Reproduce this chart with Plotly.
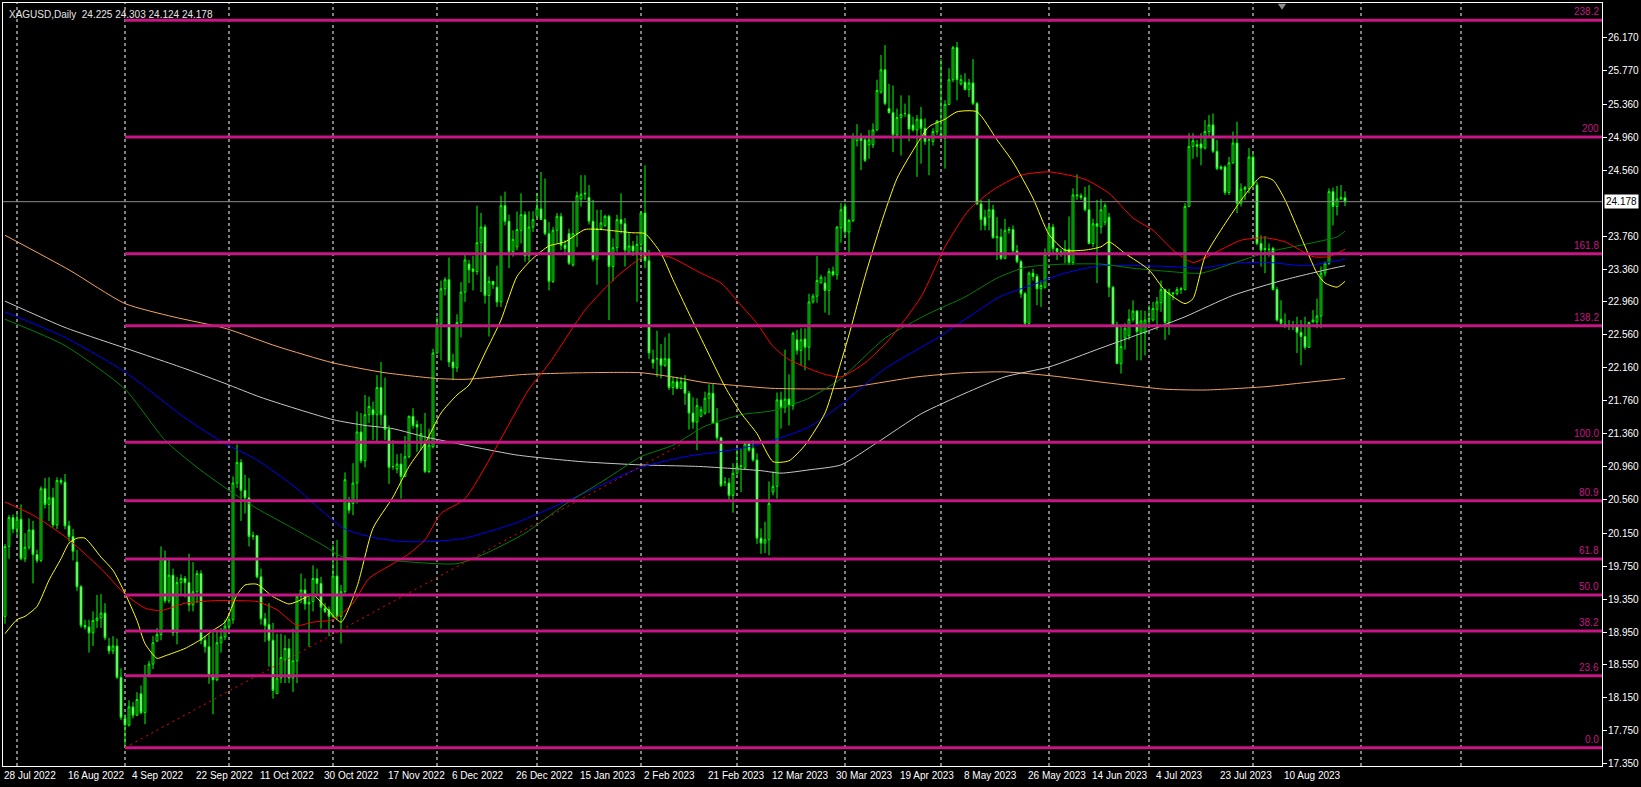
import pandas as pd
import plotly.graph_objects as go

# ---- daily bars (XAGUSD, 28 Jul 2022 - 28 Aug 2023) ----
opens = [
    19.14, 19.99, 20.34, 20.20, 20.32, 19.84, 19.98, 20.19, 19.89, 19.82,
    20.69, 20.50, 20.58, 20.25, 20.79, 20.77, 20.24, 20.11, 19.80, 19.50,
    19.03, 19.01, 18.94, 19.09, 19.12, 19.18, 18.78, 18.72, 18.78, 18.40,
    17.90, 17.82, 18.04, 17.94, 18.20, 17.97, 18.43, 18.56, 18.84, 18.92,
    19.84, 19.33, 19.64, 18.94, 19.55, 19.60, 19.55, 19.28, 19.44, 19.66,
    18.85, 18.77, 18.43, 18.37, 18.82, 18.89, 19.02, 19.10, 20.76, 21.01,
    20.67, 20.58, 20.11, 20.12, 19.62, 19.11, 19.04, 18.85, 18.20, 18.39,
    18.61, 18.75, 18.39, 18.60, 19.38, 19.46, 19.29, 19.32, 19.60, 19.54,
    19.24, 19.22, 19.14, 19.63, 19.14, 19.44, 20.52, 20.51, 20.76, 21.38,
    21.03, 21.59, 21.65, 21.59, 21.92, 21.58, 21.41, 20.96, 20.93, 20.99,
    20.84, 21.08, 21.57, 21.47, 21.24, 21.24, 20.90, 21.20, 22.34, 22.69,
    23.12, 23.23, 22.23, 22.16, 22.71, 23.08, 23.42, 23.36, 23.33, 23.68,
    23.87, 23.04, 23.21, 23.14, 22.96, 24.13, 23.94, 23.57, 23.63, 23.83,
    24.02, 23.52, 23.87, 24.00, 24.09, 23.96, 23.79, 23.21, 23.83, 24.00,
    23.65, 23.79, 23.41, 23.79, 24.21, 24.27, 24.23, 23.94, 23.48, 23.85,
    23.89, 24.00, 23.39, 23.62, 23.96, 23.91, 23.56, 23.64, 23.56, 23.66,
    24.04, 23.46, 22.26, 22.27, 22.27, 22.19, 22.27, 21.92, 21.99, 21.91,
    21.99, 21.85, 21.61, 21.50, 21.57, 21.61, 21.79, 21.85, 21.49, 21.31,
    20.77, 20.76, 20.61, 20.88, 20.96, 20.94, 21.24, 21.18, 21.04, 20.09,
    20.03, 20.07, 20.65, 20.72, 21.77, 21.68, 21.78, 21.70, 22.50, 22.37,
    22.51, 22.41, 22.96, 23.03, 23.19, 23.19, 23.10, 23.33, 23.29, 23.86,
    24.12, 23.81, 23.95, 24.92, 24.97, 24.93, 24.87, 24.87, 25.05, 25.51,
    25.78, 25.31, 25.26, 24.99, 25.20, 25.25, 25.24, 25.11, 25.05, 25.18,
    25.07, 24.93, 24.91, 25.03, 25.00, 24.95, 25.36, 25.66, 26.05, 25.61,
    25.63, 25.54, 25.62, 25.37, 24.15, 23.99, 23.99, 24.08, 23.74, 23.75,
    23.49, 23.83, 23.84, 23.58, 23.45, 23.06, 22.70, 23.31, 23.27, 23.12,
    23.14, 23.54, 23.87, 23.61, 23.57, 23.55, 23.60, 23.44, 24.26, 24.25,
    24.23, 24.08, 23.67, 23.91, 23.87, 23.93, 23.99, 23.14, 22.68, 22.21,
    22.52, 22.55, 22.75, 22.85, 22.58, 22.58, 22.75, 22.74, 22.87, 22.95,
    23.11, 22.71, 23.07, 23.06, 23.11, 23.11, 24.12, 24.85, 24.87, 24.88,
    24.83, 25.03, 25.11, 24.79, 24.60, 24.60, 24.29, 24.65, 24.89, 24.16,
    24.35, 24.34, 24.72, 24.38, 23.67, 23.61, 23.60, 23.61, 23.11, 22.75,
    22.69, 22.68, 22.67, 22.67, 22.59, 22.54, 22.41, 22.72, 22.72, 22.79,
    23.31, 23.43, 24.30, 24.12, 24.21, 24.225,
]
highs = [
    20.02, 20.37, 20.38, 20.40, 20.50, 20.15, 20.33, 20.30, 19.95, 20.72,
    20.82, 20.83, 20.70, 20.83, 20.82, 20.87, 20.30, 20.20, 19.95, 19.52,
    19.10, 19.10, 19.20, 19.40, 19.41, 19.30, 18.88, 18.90, 18.87, 18.51,
    17.95, 18.12, 18.10, 18.22, 18.30, 18.55, 18.60, 18.90, 19.00, 19.99,
    19.94, 19.85, 19.72, 19.62, 19.65, 19.63, 19.90, 19.80, 19.70, 19.70,
    18.90, 18.92, 18.98, 18.95, 19.00, 19.10, 19.14, 20.84, 21.23, 21.05,
    20.86, 20.82, 20.17, 20.12, 19.72, 19.18, 19.30, 19.06, 18.93, 18.93,
    18.91, 18.87, 18.99, 19.40, 19.66, 19.60, 19.39, 19.76, 19.72, 19.62,
    19.30, 19.26, 20.01, 20.07, 19.52, 20.89, 20.59, 21.00, 21.63, 21.61,
    21.83, 21.81, 21.75, 22.07, 22.23, 22.04, 21.46, 21.28, 21.11, 21.12,
    21.33, 21.58, 21.67, 21.52, 21.48, 21.61, 21.42, 22.39, 22.78, 23.22,
    23.26, 23.50, 22.33, 22.81, 23.20, 23.53, 23.47, 23.52, 24.13, 24.04,
    23.90, 23.27, 23.21, 23.40, 24.25, 24.30, 24.02, 23.83, 24.06, 24.28,
    24.06, 24.06, 24.06, 24.28, 24.54, 24.46, 23.93, 23.87, 24.04, 24.04,
    23.71, 23.85, 24.18, 24.30, 24.50, 24.50, 24.38, 24.20, 24.08, 24.08,
    24.02, 24.02, 23.73, 24.02, 24.28, 23.98, 23.81, 23.70, 23.77, 24.06,
    24.62, 23.59, 22.38, 22.61, 22.45, 22.53, 22.58, 22.05, 22.05, 22.05,
    22.07, 21.88, 21.80, 21.79, 21.69, 21.87, 21.96, 21.97, 21.67, 21.32,
    20.83, 20.82, 21.00, 21.18, 21.18, 21.26, 21.26, 21.28, 21.12, 20.21,
    20.29, 20.78, 20.90, 21.86, 21.87, 22.38, 22.08, 22.60, 22.62, 22.64,
    22.64, 23.06, 23.06, 23.52, 23.29, 23.27, 23.37, 23.39, 23.88, 24.16,
    24.16, 23.97, 25.01, 25.12, 25.01, 24.95, 25.05, 25.13, 25.66, 25.96,
    26.08, 25.61, 25.59, 25.31, 25.47, 25.37, 25.47, 25.21, 25.23, 25.33,
    25.19, 24.97, 25.07, 25.17, 25.91, 25.41, 25.80, 26.07, 26.12, 25.72,
    25.74, 25.67, 25.91, 25.39, 24.20, 24.08, 24.21, 24.14, 23.99, 23.85,
    23.97, 23.87, 23.89, 23.65, 23.47, 23.08, 23.33, 23.36, 23.30, 23.22,
    23.61, 23.89, 23.91, 23.61, 23.60, 23.71, 24.00, 24.34, 24.51, 24.28,
    24.36, 24.38, 23.97, 24.20, 24.21, 24.16, 24.04, 23.15, 22.72, 22.66,
    22.70, 22.87, 22.98, 22.86, 22.86, 22.85, 22.92, 22.96, 23.02, 23.22,
    23.12, 23.12, 23.08, 23.14, 23.14, 24.16, 25.01, 25.01, 24.93, 25.01,
    25.17, 25.23, 25.25, 24.93, 24.62, 24.62, 24.72, 25.03, 25.15, 24.40,
    24.37, 24.83, 24.77, 24.42, 23.77, 23.76, 23.67, 23.63, 23.14, 22.98,
    22.82, 22.74, 22.73, 22.78, 22.74, 22.78, 22.72, 22.86, 23.00, 23.39,
    23.45, 24.34, 24.35, 24.37, 24.38, 24.303,
]
lows = [
    19.05, 19.84, 20.15, 20.12, 19.82, 19.80, 19.95, 19.54, 19.79, 19.80,
    20.45, 20.30, 20.22, 20.20, 20.74, 20.20, 20.05, 19.82, 19.45, 19.00,
    18.98, 18.70, 18.78, 19.00, 19.00, 18.85, 18.68, 18.68, 18.38, 17.88,
    17.56, 17.80, 17.90, 17.93, 17.95, 17.83, 18.40, 18.50, 18.83, 18.85,
    19.30, 19.30, 18.90, 18.80, 19.40, 19.37, 19.20, 19.20, 19.30, 18.80,
    18.70, 18.32, 17.95, 18.35, 18.70, 18.85, 18.94, 19.05, 20.70, 20.30,
    20.39, 19.99, 20.07, 19.60, 19.04, 18.83, 18.53, 18.14, 18.20, 18.33,
    18.33, 18.33, 18.22, 18.33, 19.30, 19.22, 18.77, 19.20, 19.40, 18.99,
    19.18, 18.90, 19.12, 19.10, 18.81, 19.42, 20.39, 20.37, 20.51, 21.00,
    20.95, 21.49, 21.28, 21.26, 21.46, 21.28, 20.75, 20.92, 20.88, 20.57,
    20.84, 21.06, 21.42, 21.14, 21.16, 20.88, 20.88, 21.18, 22.33, 22.25,
    23.04, 22.17, 22.01, 22.11, 22.53, 22.96, 23.19, 23.10, 23.29, 23.08,
    22.94, 22.54, 23.12, 22.90, 22.90, 23.89, 23.37, 23.51, 23.59, 23.67,
    23.45, 23.45, 23.81, 23.98, 23.96, 23.77, 23.10, 23.19, 23.67, 23.59,
    23.55, 23.41, 23.39, 23.63, 24.12, 24.20, 23.90, 23.45, 23.17, 23.83,
    23.87, 22.74, 23.21, 23.57, 23.79, 23.39, 23.55, 23.52, 22.96, 23.47,
    23.37, 22.27, 22.15, 22.05, 22.03, 22.17, 21.89, 21.83, 21.90, 21.90,
    21.71, 21.41, 21.42, 21.16, 21.56, 21.59, 21.61, 21.48, 21.25, 20.71,
    20.72, 20.55, 20.40, 20.86, 20.65, 20.92, 21.14, 21.02, 20.02, 19.90,
    19.91, 19.88, 20.61, 20.57, 21.42, 21.61, 21.46, 21.65, 22.32, 22.19,
    22.13, 22.25, 22.94, 22.95, 23.19, 22.83, 22.80, 23.27, 23.23, 23.68,
    23.75, 23.56, 23.93, 24.85, 24.56, 24.66, 24.70, 24.83, 25.04, 25.49,
    25.35, 25.25, 24.78, 24.95, 24.74, 25.21, 24.91, 25.03, 24.48, 24.64,
    24.87, 24.50, 24.86, 24.99, 24.93, 24.58, 25.35, 25.63, 25.41, 25.59,
    25.53, 25.45, 25.35, 24.14, 23.83, 23.83, 23.83, 23.73, 23.47, 23.47,
    23.48, 23.79, 23.55, 23.43, 23.01, 22.68, 22.66, 23.22, 22.92, 22.90,
    23.12, 23.51, 23.55, 23.47, 23.51, 23.43, 23.41, 23.41, 24.20, 24.20,
    24.06, 23.66, 23.63, 23.19, 23.79, 23.89, 23.02, 22.66, 22.21, 22.09,
    22.38, 22.50, 22.72, 22.25, 22.25, 22.31, 22.66, 22.72, 22.62, 22.84,
    22.50, 22.56, 22.98, 23.04, 23.06, 23.10, 24.12, 24.70, 24.72, 24.62,
    24.81, 24.97, 24.77, 24.56, 24.56, 24.26, 24.26, 24.64, 24.04, 24.12,
    24.20, 24.28, 24.36, 23.65, 23.39, 23.31, 23.51, 23.10, 22.72, 22.66,
    22.64, 22.62, 22.62, 22.34, 22.19, 22.38, 22.40, 22.70, 22.64, 22.64,
    23.27, 23.41, 23.89, 24.01, 24.20, 24.124,
]
closes = [
    19.99, 20.34, 20.20, 20.32, 19.84, 19.98, 20.19, 19.89, 19.82, 20.69,
    20.50, 20.58, 20.25, 20.79, 20.77, 20.24, 20.11, 19.93, 19.50, 19.03,
    19.01, 18.94, 19.09, 19.12, 19.18, 18.88, 18.72, 18.78, 18.40, 17.91,
    17.82, 18.04, 17.94, 18.13, 17.97, 18.43, 18.56, 18.82, 18.92, 19.84,
    19.33, 19.64, 18.94, 19.55, 19.60, 19.55, 19.28, 19.44, 19.66, 18.85,
    18.77, 18.43, 18.37, 18.82, 18.89, 19.02, 19.10, 20.76, 21.01, 20.67,
    20.58, 20.11, 20.12, 19.62, 19.11, 19.03, 18.85, 18.24, 18.39, 18.64,
    18.75, 18.39, 18.60, 19.38, 19.46, 19.29, 19.31, 19.60, 19.54, 19.25,
    19.20, 19.14, 19.63, 19.14, 19.44, 20.80, 20.43, 20.76, 21.38, 21.03,
    21.59, 21.69, 21.59, 21.92, 21.59, 21.41, 20.95, 20.96, 20.99, 20.84,
    21.08, 21.57, 21.46, 21.44, 21.36, 20.90, 21.22, 22.34, 22.69, 23.12,
    23.23, 22.23, 22.16, 22.71, 23.08, 23.47, 23.35, 23.33, 23.68, 23.87,
    23.04, 23.21, 23.17, 22.96, 24.13, 23.94, 23.57, 23.72, 23.84, 24.02,
    23.52, 23.87, 23.96, 24.10, 23.96, 23.79, 23.21, 23.83, 24.00, 23.65,
    23.61, 23.43, 23.79, 24.25, 24.27, 24.28, 23.94, 23.48, 23.85, 23.92,
    24.00, 23.39, 23.62, 23.96, 23.91, 23.59, 23.64, 23.58, 23.66, 24.04,
    23.46, 22.34, 22.22, 22.27, 22.19, 22.27, 21.92, 21.99, 21.91, 21.99,
    21.85, 21.61, 21.50, 21.70, 21.65, 21.79, 21.85, 21.49, 21.31, 20.73,
    20.77, 20.61, 20.88, 20.96, 20.97, 21.24, 21.16, 21.04, 20.09, 20.03,
    20.07, 20.51, 20.72, 21.77, 21.68, 21.78, 21.70, 22.58, 22.37, 22.50,
    22.41, 22.96, 23.03, 23.22, 23.26, 23.10, 23.33, 23.29, 23.87, 24.08,
    23.81, 23.95, 24.97, 24.97, 24.92, 24.68, 24.93, 25.05, 25.53, 25.78,
    25.37, 25.26, 24.99, 25.20, 25.24, 25.25, 25.06, 25.05, 25.18, 25.07,
    24.91, 24.93, 25.03, 25.16, 24.97, 25.36, 25.66, 26.05, 25.66, 25.66,
    25.54, 25.62, 25.37, 24.15, 23.96, 23.89, 24.08, 23.74, 23.75, 23.49,
    23.83, 23.84, 23.58, 23.45, 23.06, 22.70, 23.31, 23.27, 23.12, 23.16,
    23.54, 23.87, 23.61, 23.57, 23.55, 23.60, 23.44, 24.26, 24.25, 24.23,
    24.08, 23.67, 23.91, 23.88, 24.08, 24.13, 23.14, 22.68, 22.21, 22.42,
    22.64, 22.75, 22.85, 22.60, 22.73, 22.74, 22.76, 22.88, 22.96, 23.11,
    22.71, 23.07, 23.06, 23.11, 23.12, 24.12, 24.85, 24.92, 24.85, 24.83,
    25.03, 25.11, 24.79, 24.58, 24.58, 24.29, 24.65, 24.89, 24.16, 24.33,
    24.33, 24.72, 24.38, 23.67, 23.59, 23.60, 23.60, 23.11, 22.74, 22.70,
    22.68, 22.67, 22.66, 22.59, 22.54, 22.41, 22.71, 22.74, 22.79, 23.31,
    23.43, 24.30, 24.12, 24.21, 24.23, 24.178,
]

# ---- moving averages, sampled at bar positions ----
yellow_x = [0, 3, 5, 8, 11, 14, 16, 18, 20, 24, 27, 30, 33, 35, 38, 40, 45, 49, 52, 55,
            58, 60, 63, 67, 71, 73, 77, 80, 84, 88, 92, 97, 101, 105, 109, 113, 116, 120,
            124, 128, 132, 136, 140, 145, 149, 153, 157, 160, 164, 167, 171, 175, 180, 184,
            188, 192, 196, 200, 205, 209, 211, 215, 219, 223, 227, 231, 235, 238, 243, 248,
            252, 257, 261, 265, 270, 274, 276, 280, 286, 290, 295, 297, 300, 305, 310, 314,
            317, 320, 324, 328, 330, 333, 335]
yellow_y = [18.93, 19.10, 19.14, 19.26, 19.58, 19.84, 20.03, 20.09, 20.09, 19.86, 19.70, 19.42,
            19.09, 18.81, 18.63, 18.66, 18.75, 18.86, 18.97, 19.07, 19.40, 19.52, 19.53, 19.38,
            19.29, 19.32, 19.40, 19.26, 19.07, 19.50, 20.21, 20.59, 20.96, 21.24, 21.61, 21.83,
            21.95, 22.34, 22.74, 23.27, 23.49, 23.64, 23.69, 23.84, 23.84, 23.82, 23.80, 23.79,
            23.55, 23.23, 22.82, 22.42, 21.93, 21.61, 21.36, 21.02, 21.03, 21.22, 21.61, 22.23,
            22.56, 23.27, 23.91, 24.46, 24.80, 25.09, 25.18, 25.27, 25.27, 24.93, 24.66, 24.22,
            23.78, 23.59, 23.59, 23.63, 23.69, 23.55, 23.35, 23.10, 22.94, 23.00, 23.51, 23.91,
            24.26, 24.48, 24.44, 24.20, 23.75, 23.31, 23.19, 23.14, 23.21]

red_x = [0, 7, 15, 24, 30, 35, 39, 45, 52, 59, 63, 68, 73, 77, 82, 87, 91, 97, 101, 105,
         109, 115, 131, 136, 145, 153, 160, 164, 167, 174, 179, 184, 188, 192, 196, 201, 205,
         209, 215, 221, 229, 235, 241, 247, 254, 261, 270, 276, 282, 287, 292, 297, 303, 309,
         315, 320, 327, 331, 335]
red_y = [20.53, 20.37, 20.11, 19.72, 19.41, 19.24, 19.21, 19.30, 19.33, 19.33, 19.32, 19.22,
         19.03, 19.07, 19.10, 19.30, 19.60, 19.78, 19.90, 20.07, 20.39, 20.57, 21.90, 22.21,
         22.86, 23.27, 23.52, 23.53, 23.49, 23.31, 23.19, 22.92, 22.70, 22.42, 22.26, 22.15,
         22.08, 22.05, 22.22, 22.50, 23.02, 23.63, 24.08, 24.32, 24.50, 24.54, 24.45, 24.28,
         23.98, 23.83, 23.59, 23.44, 23.57, 23.71, 23.74, 23.69, 23.51, 23.51, 23.60]

green_x = [0, 15, 30, 40, 48, 56, 63, 72, 80, 84, 96, 113, 120, 130, 140, 150, 159, 167, 175,
           184, 192, 201, 209, 220, 231, 240, 248, 255, 261, 265, 274, 282, 291, 299, 307, 316,
           325, 333, 335]
green_y = [22.75, 22.43, 21.90, 21.28, 20.95, 20.67, 20.45, 20.21, 19.99, 19.87, 19.82, 19.78,
           19.90, 20.15, 20.50, 20.80, 21.08, 21.22, 21.45, 21.59, 21.64, 21.79, 22.03, 22.52,
           22.82, 23.02, 23.25, 23.38, 23.41, 23.42, 23.42, 23.37, 23.33, 23.31, 23.43, 23.57,
           23.66, 23.75, 23.82]

blue_x = [0, 15, 30, 45, 55, 63, 72, 80, 85, 92, 99, 107, 115, 128, 144, 159, 170, 184, 192,
          201, 209, 220, 233, 241, 249, 257, 265, 274, 291, 299, 307, 316, 325, 333, 335]
blue_y = [22.84, 22.53, 22.11, 21.55, 21.24, 21.04, 20.73, 20.39, 20.20, 20.10, 20.05, 20.05,
          20.09, 20.28, 20.62, 20.95, 21.08, 21.18, 21.28, 21.44, 21.71, 22.15, 22.52, 22.78,
          23.03, 23.17, 23.31, 23.40, 23.39, 23.37, 23.43, 23.44, 23.40, 23.46, 23.48]

silver_x = [0, 15, 30, 45, 55, 64, 82, 90, 97, 105, 109, 115, 128, 144, 159, 174, 189, 194,
            201, 209, 218, 229, 240, 250, 261, 274, 287, 295, 307, 320, 332, 335]
silver_y = [22.97, 22.65, 22.40, 22.15, 21.97, 21.80, 21.53, 21.46, 21.42, 21.32, 21.28, 21.22,
            21.10, 21.02, 20.98, 20.96, 20.91, 20.88, 20.92, 20.98, 21.25, 21.60, 21.85, 22.05,
            22.17, 22.40, 22.63, 22.78, 23.04, 23.23, 23.37, 23.40]

orange_x = [0, 16, 30, 42, 55, 68, 82, 95, 108, 115, 130, 145, 159, 168, 175, 184, 192, 209,
            228, 240, 250, 262, 275, 290, 300, 315, 325, 335]
orange_y = [23.77, 23.35, 22.94, 22.78, 22.64, 22.42, 22.22, 22.10, 22.03, 22.02, 22.08, 22.10,
            22.10, 22.04, 21.98, 21.94, 21.91, 21.91, 22.05, 22.10, 22.11, 22.06, 21.98, 21.90,
            21.89, 21.93, 21.98, 22.03]

# ---- fibo expansion (anchored on the 1 Sep 2022 low) ----
fib_low, fib_high = 17.544, 21.254
fib_start, fib_end = 30, 170
fib_ratios = [0.0, 23.6, 38.2, 50.0, 61.8, 80.9, 100.0, 138.2, 161.8, 200.0, 238.2]
fib_labels = ["0.0", "23.6", "38.2", "50.0", "61.8", "80.9", "100.0", "138.2", "161.8", "200", "238.2"]

date_labels = ["28 Jul 2022", "16 Aug 2022", "4 Sep 2022", "22 Sep 2022", "11 Oct 2022",
               "30 Oct 2022", "17 Nov 2022", "6 Dec 2022", "26 Dec 2022", "15 Jan 2023",
               "2 Feb 2023", "21 Feb 2023", "12 Mar 2023", "30 Mar 2023", "19 Apr 2023",
               "8 May 2023", "26 May 2023", "14 Jun 2023", "4 Jul 2023", "23 Jul 2023",
               "10 Aug 2023"]
price_ticks = [26.17, 25.77, 25.36, 24.96, 24.56, 23.76, 23.36, 22.96, 22.56, 22.16, 21.76,
               21.36, 20.96, 20.56, 20.15, 19.75, 19.35, 18.95, 18.55, 18.15, 17.75, 17.35]
last_price = 24.178

FONT = "Liberation Sans, Arial, sans-serif"
n = len(closes)
bars = list(range(n))

# broker calendar: no Saturdays, a few holiday bars missing
holidays = pd.to_datetime(["2022-12-25", "2023-01-01", "2023-04-07", "2023-06-19"])
days = pd.date_range("2022-07-28", "2023-10-15")
days = [d for d in days if d.weekday() != 5 and d not in holidays]
month_starts = [i for i in range(1, len(days)) if days[i].month != days[i - 1].month]

fig = go.Figure()
fig.add_trace(go.Candlestick(
    x=bars, open=opens, high=highs, low=lows, close=closes,
    increasing=dict(line=dict(color="#00FF00", width=1), fillcolor="#000000"),
    decreasing=dict(line=dict(color="#00FF00", width=1), fillcolor="#FFFFFF"),
    whiskerwidth=0, showlegend=False, hoverinfo="skip",
))

ma_lines = [
    (orange_x, orange_y, "#F4A460"),
    (silver_x, silver_y, "#C8C8C8"),
    (blue_x, blue_y, "#0000FF"),
    (green_x, green_y, "#008000"),
    (red_x, red_y, "#FF0000"),
    (yellow_x, yellow_y, "#FFFF00"),
]
for xs, ys, col in ma_lines:
    fig.add_trace(go.Scatter(
        x=xs, y=ys, mode="lines", line=dict(color=col, width=1, shape="spline", smoothing=0.6),
        showlegend=False, hoverinfo="skip",
    ))

x_right = 399.25

# monthly dashed grid
for m in month_starts:
    if m > x_right:
        break
    fig.add_shape(type="line", xref="x", yref="paper", x0=m, x1=m, y0=0, y1=1,
                  line=dict(color="#FFFFFF", width=1, dash="3px,3px"), layer="below")

# fibo levels
for r, lab in zip(fib_ratios, fib_labels):
    lvl = fib_low + r / 100 * (fib_high - fib_low)
    fig.add_shape(type="line", xref="x", yref="y", x0=fib_start, x1=x_right, y0=lvl, y1=lvl,
                  line=dict(color="#C71585", width=3))
    fig.add_annotation(x=1, xref="paper", y=lvl, yref="y", text=lab, showarrow=False,
                       xanchor="right", yanchor="bottom", xshift=-1, yshift=1,
                       font=dict(family=FONT, size=10, color="#C71585"))

fig.add_shape(type="line", xref="x", yref="y", x0=fib_start, y0=fib_low, x1=fib_end, y1=fib_high,
              line=dict(color="#FF0000", width=1, dash="2px,4px"))

# bid line
fig.add_shape(type="line", xref="x", yref="y", x0=-0.5, x1=x_right, y0=last_price, y1=last_price,
              line=dict(color="#8C8C8C", width=1))

# price scale labels drawn next to the axis ticks
for v in price_ticks:
    fig.add_annotation(x=1, xref="paper", y=v, yref="y", text=f"{v:.3f}", showarrow=False,
                       xanchor="left", xshift=5, borderpad=0,
                       font=dict(family=FONT, size=10, color="#FFFFFF"))
fig.add_annotation(x=1, xref="paper", y=last_price, yref="y", text=f"{last_price:.3f}",
                   showarrow=False, xanchor="left", xshift=2, bgcolor="#FFFFFF", borderpad=1,
                   font=dict(family=FONT, size=10, color="#000000"))

# shift marker at top
fig.add_shape(type="path", xref="x", yref="paper",
              path="M 318.2 0.999 L 320.3 0.999 L 319.25 0.991 Z",
              fillcolor="#8C8C8C", line=dict(width=0))

for k, lab in enumerate(date_labels):
    fig.add_annotation(x=16 * k, xref="x", y=0, yref="paper", text=lab, showarrow=False,
                       xanchor="left", yanchor="top", xshift=-3, yshift=-2,
                       font=dict(family=FONT, size=10, color="#FFFFFF"))

fig.add_annotation(x=0, xref="paper", y=1, yref="paper",
                   text="XAGUSD,Daily  24.225 24.303 24.124 24.178", showarrow=False,
                   xanchor="left", yanchor="top", xshift=4, yshift=-4,
                   font=dict(family=FONT, size=10, color="#E6E6E6"))

fig.update_layout(
    width=1641, height=787,
    margin=dict(l=3, r=39, t=3, b=21, pad=0),
    paper_bgcolor="#000000", plot_bgcolor="#000000",
    boxgap=0.35,
    xaxis=dict(range=[-0.5, x_right], showgrid=False, zeroline=False, showticklabels=False,
               rangeslider=dict(visible=False), showline=True, mirror=True,
               linecolor="#FFFFFF", linewidth=1, fixedrange=True),
    yaxis=dict(range=[17.322, 26.592], side="right", showgrid=False, zeroline=False,
               tickvals=price_ticks, showticklabels=False,
               ticks="outside", ticklen=4, tickcolor="#FFFFFF",
               showline=True, mirror=True, linecolor="#FFFFFF", linewidth=1, fixedrange=True),
    hovermode=False,
)

# the page has a default body margin; drop it so the chart sits at the window origin
fig.write_html("out.html", config={"displayModeBar": False},
               post_script="document.body.style.margin='0';document.body.style.background='#000';")
